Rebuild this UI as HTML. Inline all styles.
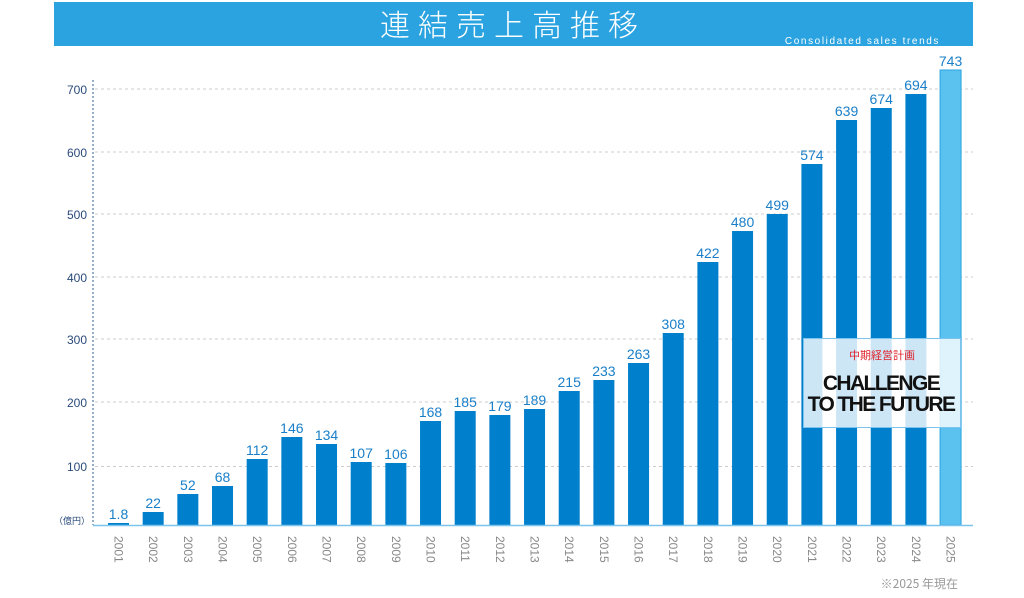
<!DOCTYPE html><html><head><meta charset="utf-8"><style>
body{margin:0;width:1024px;height:593px;background:#fff;overflow:hidden;font-family:"Liberation Sans","Noto Sans CJK JP",sans-serif}
</style></head><body>
<svg width="1024" height="593" xmlns="http://www.w3.org/2000/svg" font-family="Liberation Sans, Noto Sans CJK JP, sans-serif">
<rect x="54" y="2" width="919" height="44" fill="#2ba3e0"/>
<text x="513" y="36" fill="#fff" font-size="30" text-anchor="middle" letter-spacing="8" font-family="Noto Sans CJK JP, sans-serif" font-weight="300">連結売上高推移</text>
<text x="940" y="44" fill="#fff" font-size="10" text-anchor="end" letter-spacing="1.6">Consolidated sales trends</text>
<g stroke="#ccc" stroke-dasharray="3,3" stroke-width="1">
<line x1="95" x2="973" y1="466.5" y2="466.5"/><line x1="95" x2="973" y1="402" y2="402"/><line x1="95" x2="973" y1="339" y2="339"/><line x1="95" x2="973" y1="277" y2="277"/><line x1="95" x2="973" y1="214" y2="214"/><line x1="95" x2="973" y1="152" y2="152"/><line x1="95" x2="973" y1="89" y2="89"/>
</g>
<line x1="93" y1="80" x2="93" y2="525" stroke="#2a5d9a" stroke-dasharray="2,2"/>
<g fill="#2a4a7a" font-size="12" text-anchor="end">
<text x="87" y="471">100</text><text x="87" y="407">200</text><text x="87" y="344">300</text><text x="87" y="282">400</text><text x="87" y="219">500</text><text x="87" y="157">600</text><text x="87" y="94">700</text>
<text x="90" y="524" font-size="9" font-family="Noto Sans CJK JP,sans-serif">（億円）</text>
</g>
<g id="bars"></g>
<rect x="803" y="338" width="158" height="90" fill="#fff" fill-opacity="0.8"/>
<rect x="803.5" y="338.5" width="157" height="89" fill="none" stroke="#7cc3ee" stroke-width="1"/>
<text x="882" y="359" fill="#e0202a" font-size="11" text-anchor="middle" font-family="Noto Sans CJK JP,sans-serif">中期経営計画</text>
<text x="881" y="390" fill="#111" font-size="21" font-weight="bold" text-anchor="middle" letter-spacing="-1.6">CHALLENGE</text>
<text x="881" y="411" fill="#111" font-size="21" font-weight="bold" text-anchor="middle" letter-spacing="-1.6">TO THE FUTURE</text>
<line x1="93" y1="525.5" x2="973" y2="525.5" stroke="#7cc3ee" stroke-width="1.5"/>
<text x="958" y="588" fill="#999" font-size="12" text-anchor="end" font-family="Noto Sans CJK JP,sans-serif">※2025 年現在</text>
</svg>
<script>
var v=[1.8,22,52,68,112,146,134,107,106,168,185,179,189,215,233,263,308,422,480,499,574,639,674,694,743];
var t=[523,512,494,486,459,437,444,462,463,421,411,415,409,391,380,363,333,262,231,214,164,120,108,94,70];
var g=document.getElementById('bars'),s='';
for(var i=0;i<v.length;i++){var c=118.5+i*34.67,y=t[i],h=525-y;var last=i==24;
s+='<rect x="'+(c-10.5)+'" y="'+y+'" width="21" height="'+h+'" fill="'+(last?'#5bc2f0':'#0080cc')+'"'+(last?' stroke="#2ba3e0"':'')+'/>';
s+='<text x="'+c+'" y="'+(y-4)+'" fill="#1a7fc8" font-size="14" text-anchor="middle">'+v[i]+'</text>';
s+='<text transform="translate('+(c-4)+',536) rotate(90)" fill="#888" font-size="12">'+(2001+i)+'</text>';}
g.innerHTML=s;
</script>
</body></html>
